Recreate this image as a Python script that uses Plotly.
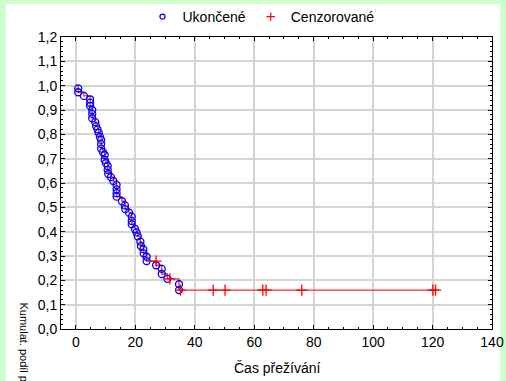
import plotly.graph_objects as go

# Data (Kaplan-Meier cumulative proportion surviving)
event_times = [0.8, 0.8, 2.7, 4.8, 4.8, 4.8, 5.5, 5.5, 5.5, 6.5, 6.8, 7.3, 7.7, 8.1, 8.5,
               8.5, 8.5, 9.1, 9.7, 9.7, 10.1, 10.7, 10.7, 10.9, 11.8, 12.6, 13.7, 13.7, 13.7, 13.7,
               15.5, 16.5, 16.6, 17.9, 18.8, 18.8, 18.8, 19.9, 20.4, 20.8, 21.7, 21.9, 22.7, 22.8, 23.8,
               23.8, 27.0, 28.9, 28.9, 30.8, 34.7, 34.7]
event_surv = [0.989, 0.973, 0.958, 0.944, 0.930, 0.917, 0.900, 0.884, 0.866, 0.850,
              0.834, 0.820, 0.806, 0.789, 0.777, 0.760, 0.741, 0.727, 0.715, 0.695,
              0.682, 0.670, 0.654, 0.637, 0.624, 0.608, 0.592, 0.574, 0.558, 0.544,
              0.525, 0.508, 0.493, 0.478, 0.462, 0.444, 0.430, 0.411, 0.397, 0.381,
              0.359, 0.341, 0.328, 0.311, 0.297, 0.279, 0.262, 0.247, 0.226, 0.206,
              0.184, 0.160]
censor_times = [27.0, 31.6, 35.2, 46.2, 50.2, 62.9, 64.0, 76.0, 120.1, 121.0]
censor_surv = [0.279, 0.206, 0.160, 0.160, 0.160, 0.160, 0.160, 0.160, 0.160, 0.160]

start_time = [0.0]
start_surv = [1.0]

y_ticks = [0.0, 0.1, 0.2, 0.3, 0.4, 0.5, 0.6, 0.7, 0.8, 0.9, 1.0, 1.1, 1.2]
x_ticks = [0, 20, 40, 60, 80, 100, 120, 140]

# Step line built from all observations (ties: descending survival)
pts = list(zip(start_time, start_surv)) + list(zip(event_times, event_surv)) + list(zip(censor_times, censor_surv))
pts.sort(key=lambda p: (p[0], -p[1]))
line_x = [p[0] for p in pts]
line_y = [p[1] for p in pts]

FONT = "Liberation Sans, Arial, sans-serif"

fig = go.Figure()
fig.add_trace(go.Scatter(x=line_x, y=line_y, mode="lines", line=dict(shape="hv", color="rgb(255,40,40)", width=1.3),
                         showlegend=False, hoverinfo="skip"))
fig.add_trace(go.Scatter(x=event_times, y=event_surv, mode="markers", name="Ukončené", showlegend=False,
                         marker=dict(symbol="circle-open", size=7, color="#0000ff", line=dict(width=1.3))))
fig.add_trace(go.Scatter(x=censor_times, y=censor_surv, mode="markers", name="Cenzorované", showlegend=False,
                         marker=dict(symbol="cross-thin-open", size=8, color="#ff0000", line=dict(width=1.3, color="#ff0000"))))
# legend entries (smaller symbols, as in the reference legend)
fig.add_trace(go.Scatter(x=[None], y=[None], mode="markers", name="Ukončené",
                         marker=dict(symbol="circle-open", size=5, color="#0000ff", line=dict(width=1.3))))
fig.add_trace(go.Scatter(x=[None], y=[None], mode="markers", name="Cenzorované",
                         marker=dict(symbol="cross-thin-open", size=6, color="#ff0000", line=dict(width=1.2, color="#ff0000"))))

L, R, T, B = 61, 14, 37, 52
W, H = 506, 381
pw, ph = W - L - R, H - T - B

def px(x):
    return (x - L) / pw

def py(y):
    return (H - B - y) / ph

fig.update_layout(
    width=W, height=H,
    margin=dict(l=L, r=R, t=T, b=B, autoexpand=False),
    paper_bgcolor="#ccffcc",
    plot_bgcolor="white",
    separators=", ",
    font=dict(family=FONT, size=14, color="black"),
    showlegend=True,
    legend=dict(orientation="h", x=px(261), y=py(17), xanchor="center", yanchor="middle",
                bgcolor="rgba(0,0,0,0)", font=dict(size=14), itemwidth=30),
    shapes=[dict(type="rect", xref="paper", yref="paper", x0=px(6), x1=px(500), y0=py(395), y1=py(4),
                 fillcolor="white", line=dict(width=0), layer="below")],
    annotations=[
        dict(text="Čas přežívání", xref="paper", yref="paper", x=px(277), y=py(368),
             xanchor="center", yanchor="middle", showarrow=False, font=dict(size=14)),
        dict(text="Kumulat. podíl přežívajících", xref="paper", yref="paper", x=px(24), y=py(300),
             xanchor="center", yanchor="top", textangle=90, showarrow=False, font=dict(size=11)),
    ],
)

fig.update_xaxes(range=[-5, 140], tickvals=x_ticks, ticktext=[str(v) for v in x_ticks],
                 showgrid=True, gridcolor="#d4d4d4", gridwidth=1.5, zeroline=False,
                 showline=True, linecolor="black", linewidth=1, mirror="ticks",
                 ticks="inside", ticklen=4, tickcolor="black", automargin=False,
                 minor=dict(dtick=5, ticks="inside", ticklen=2, tickcolor="black", showgrid=False))
fig.update_yaxes(range=[0, 1.2], tickvals=y_ticks, tickformat=".1f",
                 showgrid=True, gridcolor="#d4d4d4", gridwidth=1.5, zeroline=False,
                 showline=True, linecolor="black", linewidth=1, mirror="ticks",
                 ticks="inside", ticklen=4, tickcolor="black", automargin=False,
                 minor=dict(dtick=0.02, ticks="inside", ticklen=2, tickcolor="black", showgrid=False))

fig.write_html("out.html")
